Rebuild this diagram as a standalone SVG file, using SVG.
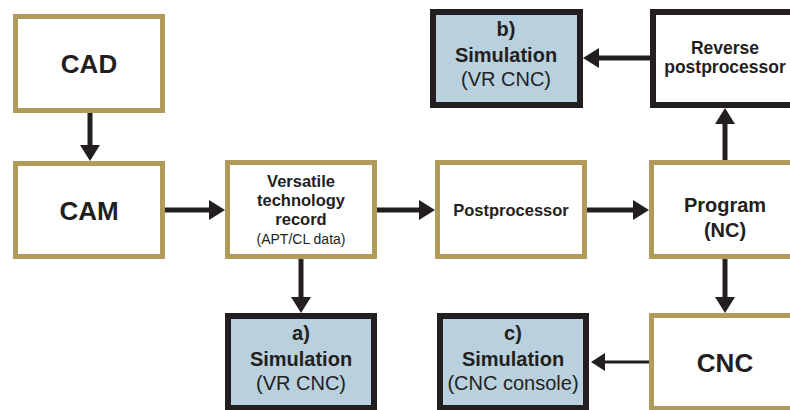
<svg xmlns="http://www.w3.org/2000/svg" width="790" height="410" viewBox="0 0 790 410">
<defs>
<style>
.g{fill:#fff;stroke:#b19b5c;stroke-width:5}
.k{fill:#b9d0de;stroke:#231f20;stroke-width:6}
.kw{fill:#fff;stroke:#231f20;stroke-width:6}
text{font-family:"Liberation Sans",Arial,sans-serif;fill:#231f20;text-anchor:middle}
.b{font-weight:bold}
.c{stroke:#231f20;stroke-width:5;fill:none}
.t{stroke:#231f20;stroke-width:3;fill:none}
</style>
<marker id="ah" markerUnits="userSpaceOnUse" markerWidth="16" markerHeight="20" refX="2" refY="10" orient="auto" viewBox="0 0 16 20">
<path d="M0,0 L16,10 L0,20 z" fill="#231f20"/>
</marker>
<marker id="as" markerUnits="userSpaceOnUse" markerWidth="14" markerHeight="18" refX="2" refY="9" orient="auto" viewBox="0 0 14 18">
<path d="M0,0 L14,9 L0,18 z" fill="#231f20"/>
</marker>
</defs>
<g id="connectors">
<path class="c" d="M90,113 V147" marker-end="url(#ah)"/>
<path class="c" d="M165,210 H211" marker-end="url(#ah)"/>
<path class="c" d="M377,210 H421" marker-end="url(#ah)"/>
<path class="c" d="M587,210 H635" marker-end="url(#ah)"/>
<path class="c" d="M725,161 V122" marker-end="url(#ah)"/>
<path class="c" d="M725,259 V299" marker-end="url(#ah)"/>
<path class="c" d="M650,58 H597" marker-end="url(#ah)"/>
<path class="c" d="M301,259 V299" marker-end="url(#ah)"/>
<path class="t" d="M649,362 H603" marker-end="url(#as)"/>
</g>
<g id="cad">
<rect class="g" x="15.5" y="16.5" width="147" height="94"/>
<text class="b" x="89" y="73" font-size="26">CAD</text>
</g>
<g id="cam">
<rect class="g" x="15.5" y="163.5" width="147" height="93"/>
<text class="b" x="89" y="220" font-size="26">CAM</text>
</g>
<g id="vtr">
<rect class="g" x="227.5" y="162.5" width="147" height="94"/>
<text class="b" x="301" y="187" font-size="16.5">Versatile</text>
<text class="b" x="301" y="206" font-size="16.5">technology</text>
<text class="b" x="301" y="225" font-size="16.5">record</text>
<text x="301" y="244" font-size="14">(APT/CL data)</text>
</g>
<g id="postprocessor">
<rect class="g" x="437.5" y="162.5" width="147" height="94"/>
<text class="b" x="511" y="216" font-size="16.5">Postprocessor</text>
</g>
<g id="program">
<rect class="g" x="651.5" y="162.5" width="148" height="94"/>
<text class="b" x="725" y="212" font-size="20">Program</text>
<text class="b" x="725" y="237" font-size="20">(NC)</text>
</g>
<g id="reverse">
<rect class="kw" x="653" y="12" width="146" height="93"/>
<text class="b" x="725" y="54" font-size="17.5">Reverse</text>
<text class="b" x="725" y="73" font-size="17.5">postprocessor</text>
</g>
<g id="sim-b">
<rect class="k" x="433" y="12" width="147" height="93"/>
<text class="b" x="506" y="36" font-size="20">b)</text>
<text class="b" x="506" y="62" font-size="20">Simulation</text>
<text x="506" y="86" font-size="20">(VR CNC)</text>
</g>
<g id="sim-a">
<rect class="k" x="228" y="316" width="146" height="92"/>
<text class="b" x="301" y="340" font-size="20">a)</text>
<text class="b" x="301" y="366" font-size="20">Simulation</text>
<text x="301" y="390" font-size="20">(VR CNC)</text>
</g>
<g id="cnc">
<rect class="g" x="651.5" y="315.5" width="148" height="93"/>
<text class="b" x="725" y="372" font-size="26">CNC</text>
</g>
<g id="sim-c">
<rect class="k" x="440" y="316" width="146" height="92"/>
<text class="b" x="513" y="340" font-size="20">c)</text>
<text class="b" x="513" y="366" font-size="20">Simulation</text>
<text x="513" y="390" font-size="20">(CNC console)</text>
</g>
</svg>
